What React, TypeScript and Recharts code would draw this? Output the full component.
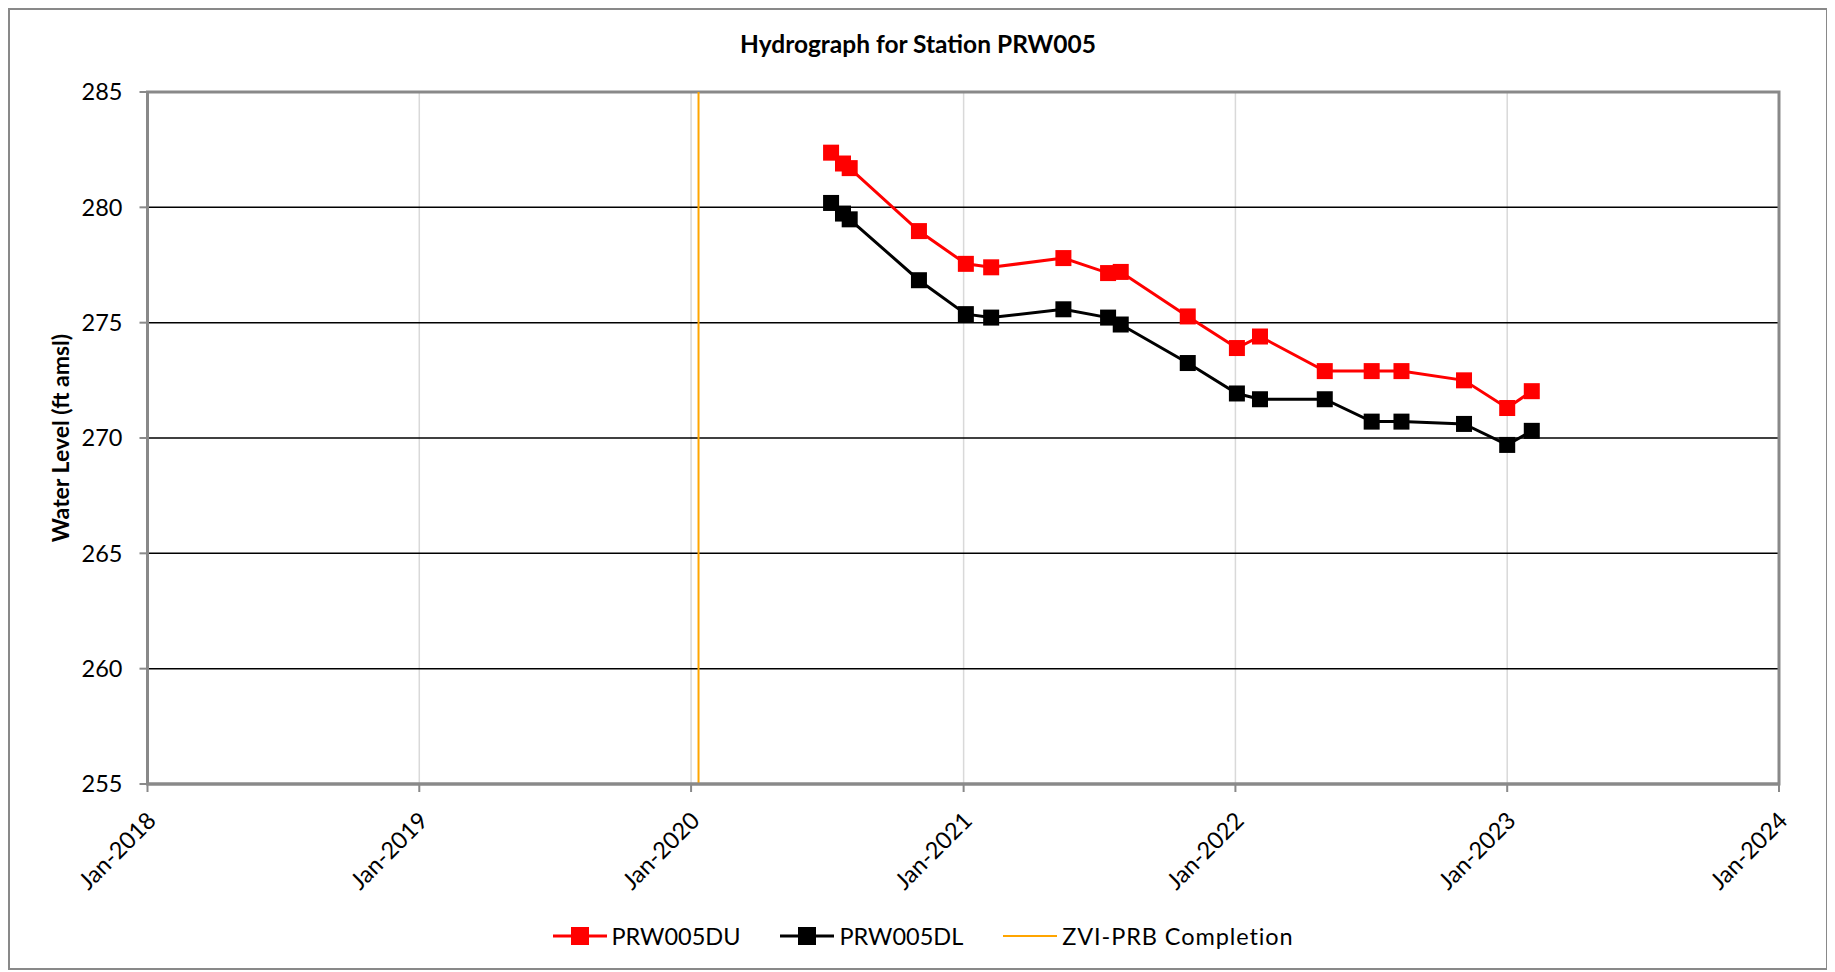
import { LineChart, Line, XAxis, YAxis, CartesianGrid, Legend, ReferenceArea, Label } from "recharts";

const FONT = "Lato, 'Open Sans', sans-serif";

// sample dates shared by both probes
const sampleDates = [
  "2020-07-07", "2020-07-23", "2020-08-01", "2020-11-02",
  "2021-01-04", "2021-02-07", "2021-05-15", "2021-07-14", "2021-07-31", "2021-10-29",
  "2022-01-03", "2022-02-03", "2022-05-01", "2022-07-03", "2022-08-12", "2022-11-04",
  "2023-01-01", "2023-02-03",
];
const duLevels = [282.37, 281.9, 281.7, 278.97, 277.55, 277.4, 277.8, 277.15, 277.2, 275.27, 273.9, 274.4, 272.9, 272.9, 272.9, 272.5, 271.3, 272.03];
const dlLevels = [280.19, 279.73, 279.48, 276.84, 275.37, 275.22, 275.58, 275.22, 274.92, 273.25, 271.93, 271.68, 271.68, 270.71, 270.71, 270.61, 269.7, 270.31];

const zviDate = "2020-01-11";
const yearTicks = ["2018-01-01", "2019-01-01", "2020-01-01", "2021-01-01", "2022-01-01", "2023-01-01", "2024-01-01"];
const levelTicks = [255, 260, 265, 270, 275, 280, 285];

const MONTHS = ["Jan", "Feb", "Mar", "Apr", "May", "Jun", "Jul", "Aug", "Sep", "Oct", "Nov", "Dec"];
const toTime = (d: string) => Date.parse(`${d}T00:00:00Z`);
const fmtDate = (t: number) => {
  const d = new Date(t);
  return `${MONTHS[d.getUTCMonth()]}-${d.getUTCFullYear()}`;
};

const duData = sampleDates.map((d, i) => ({ t: toTime(d), level: duLevels[i] }));
const dlData = sampleDates.map((d, i) => ({ t: toTime(d), level: dlLevels[i] }));
const zviData = [
  { t: toTime(zviDate), level: levelTicks[0] },
  { t: toTime(zviDate), level: levelTicks[levelTicks.length - 1] },
];
const xTicks = yearTicks.map(toTime);
const xDomain = [xTicks[0], xTicks[xTicks.length - 1]];

const GRAY = "#898989";
const FS = 23.5;

const legendItems = [
  { label: "PRW005DU", color: "#ff0000", marker: true, spacing: 0 },
  { label: "PRW005DL", color: "#000000", marker: true, spacing: 0 },
  { label: "ZVI-PRB Completion", color: "#ffa500", marker: false, spacing: 0.9 },
];

function squareDot(color: string) {
  return (props: any) => {
    const { cx, cy, index } = props;
    if (cx == null || cy == null) return <g key={index} />;
    return <rect key={index} x={cx - 8} y={cy - 8} width={16} height={16} fill={color} />;
  };
}

function DateTick({ x, y, payload }: any) {
  const ox = x + 10;
  const oy = y + 28;
  return (
    <text x={ox} y={oy} transform={`rotate(-45, ${ox}, ${oy})`} textAnchor="end" fontSize={FS} fontFamily={FONT} fill="#000">
      {fmtDate(payload.value)}
    </text>
  );
}

function ChartLegend() {
  return (
    <div style={{ height: 40, boxSizing: "border-box", paddingLeft: 57, display: "flex", justifyContent: "center", alignItems: "center", gap: 40, fontFamily: FONT, fontSize: FS, color: "#000" }}>
      {legendItems.map((it) => (
        <div key={it.label} style={{ display: "flex", alignItems: "center", gap: 5 }}>
          <svg width={54} height={20}>
            <line x1={0} y1={10} x2={54} y2={10} stroke={it.color} strokeWidth={it.marker ? 3 : 2} />
            {it.marker && <rect x={18} y={1} width={18} height={18} fill={it.color} />}
          </svg>
          <span style={{ letterSpacing: it.spacing }}>{it.label}</span>
        </div>
      ))}
    </div>
  );
}

export default function App() {
  return (
    <div style={{ width: 1816, height: 958, border: `2px solid ${GRAY}`, position: "relative", background: "#fff" }}>
      <div style={{ position: "absolute", left: 0, right: 0, top: 20, textAlign: "center", fontFamily: FONT, fontWeight: 700, fontSize: 24.5, lineHeight: "28px", color: "#000" }}>
        Hydrograph for Station PRW005
      </div>
      <LineChart width={1816} height={958} margin={{ top: 82, right: 47, bottom: 12, left: 0 }}>
        <CartesianGrid horizontal={false} vertical stroke="#d9d9d9" strokeWidth={1.5} />
        <CartesianGrid horizontal vertical={false} stroke="#000" strokeWidth={1.5} />
        <XAxis
          type="number"
          dataKey="t"
          domain={xDomain}
          ticks={xTicks}
          interval={0}
          allowDataOverflow
          height={132}
          tick={<DateTick />}
          tickSize={8}
          tickLine={{ stroke: GRAY, strokeWidth: 2 }}
          axisLine={{ stroke: GRAY, strokeWidth: 3 }}
        />
        <YAxis
          type="number"
          dataKey="level"
          domain={[255, 285]}
          ticks={levelTicks}
          interval={0}
          width={137.5}
          tickSize={8}
          tickMargin={17}
          tick={{ fontSize: FS, fontFamily: FONT, fill: "#000" }}
          tickLine={{ stroke: GRAY, strokeWidth: 2 }}
          axisLine={{ stroke: GRAY, strokeWidth: 3 }}
        >
          <Label
            content={({ viewBox }: any) => {
              const cx = viewBox.x + 50;
              const cy = viewBox.y + viewBox.height / 2;
              return (
                <text x={cx} y={cy} transform={`rotate(-90, ${cx}, ${cy})`} textAnchor="middle" dominantBaseline="central" fontSize={23} fontWeight={700} fontFamily={FONT} fill="#000">
                  Water Level (ft amsl)
                </text>
              );
            }}
          />
        </YAxis>
        <ReferenceArea x1={xDomain[0]} x2={xDomain[1]} y1={255} y2={285} fill="none" stroke={GRAY} strokeWidth={3} />
        <Line data={zviData} dataKey="level" stroke="#ffa500" strokeWidth={2} dot={false} isAnimationActive={false} />
        <Line data={duData} dataKey="level" stroke="#ff0000" strokeWidth={3} dot={squareDot("#ff0000")} isAnimationActive={false} />
        <Line data={dlData} dataKey="level" stroke="#000000" strokeWidth={3} dot={squareDot("#000000")} isAnimationActive={false} />
        <Legend verticalAlign="bottom" align="center" content={<ChartLegend />} />
      </LineChart>
    </div>
  );
}
